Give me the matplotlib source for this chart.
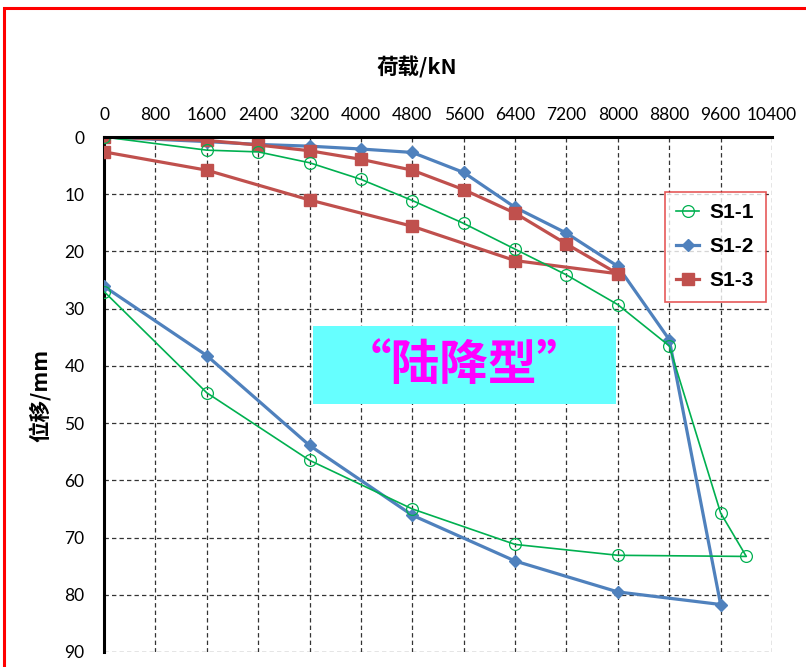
import matplotlib.pyplot as plt
from matplotlib.patches import Rectangle

plt.rcParams['font.family'] = ['Lato', 'DejaVu Sans']

# S1-1: loading then unloading
s11_load = [0, 1600, 2400, 3200, 4000, 4800, 5600, 6400, 7200, 8000, 8800, 9600, 10000,
            8000, 6400, 4800, 3200, 1600, 0]
s11_disp = [0, 2.3, 2.6, 4.5, 7.4, 11.1, 15.1, 19.6, 24.1, 29.3, 36.5, 65.7, 73.3,
            73.1, 71.2, 65.0, 56.5, 44.7, 27.0]

# S1-2
s12_load = [0, 1600, 2400, 3200, 4000, 4800, 5600, 6400, 7200, 8000, 8800, 9600,
            8000, 6400, 4800, 3200, 1600, 0]
s12_disp = [0, 0.8, 1.3, 1.6, 2.1, 2.7, 6.2, 12.3, 16.8, 22.6, 35.4, 81.7,
            79.5, 74.1, 66.1, 53.9, 38.2, 26.1]

# S1-3
s13_load = [0, 1600, 2400, 3200, 4000, 4800, 5600, 6400, 7200, 8000,
            6400, 4800, 3200, 1600, 0]
s13_disp = [0, 0.6, 1.4, 2.4, 3.9, 5.8, 9.2, 13.3, 18.7, 23.9,
            21.6, 15.6, 11.0, 5.8, 2.6]

x_ticks = list(range(0, 10401, 800))
y_ticks = list(range(0, 91, 10))

cjk = ['Noto Sans CJK SC', 'DejaVu Sans']

fig = plt.figure(figsize=(8.06, 6.67), dpi=100)
ax = fig.add_axes([104 / 806, 1 - 652 / 667, 668 / 806, 515 / 667])

ax.plot(s11_load, s11_disp, color='#00B050', lw=1.2, marker='o', ms=8.5,
        mfc='none', mec='#00B050', mew=0.9, label='S1-1', zorder=4)
ax.plot(s12_load, s12_disp, color='#4F81BD', lw=2.3, marker='D', ms=6.5,
        mfc='#4F81BD', mec='#4F81BD', label='S1-2', zorder=3)
ax.plot(s13_load, s13_disp, color='#C0504D', lw=2.3, marker='s', ms=8.5,
        mfc='#C0504D', mec='#C0504D', label='S1-3', zorder=3)

ax.set_xlim(0, 10400)
ax.set_ylim(90, 0)
ax.set_xticks(x_ticks)
ax.set_yticks(y_ticks)
ax.xaxis.tick_top()
ax.tick_params(axis='both', length=0, labelsize=12.5, colors='black')
ax.tick_params(axis='x', pad=10)
ax.tick_params(axis='y', pad=14)

ax.grid(True, color='#333333', lw=0.9, linestyle=(0, (3.5, 2.5)))
for side in ['right', 'bottom']:
    ax.spines[side].set_visible(False)
ax.spines['top'].set_linewidth(2.2)
ax.spines['left'].set_linewidth(2.2)
ax.spines['top'].set_zorder(5)

fig.text(417 / 806, 1 - 67 / 667, '荷载/kN', ha='center', va='center', fontsize=15.5,
         family=cjk, fontweight='bold')
fig.text(40 / 806, 1 - 395 / 667, '位移/mm', ha='center', va='center', fontsize=15.5,
         rotation=90, family=cjk, fontweight='bold')

# annotation box
ax.add_patch(Rectangle((313 / 806, 1 - 404 / 667), 303 / 806, 78 / 667,
                       transform=fig.transFigure, facecolor='#66FFFF',
                       edgecolor='none', zorder=6))
fig.text(464 / 806, 1 - 365 / 667, '“陆降型”', ha='center', va='center',
         fontsize=35, color='#FF00FF', fontweight='bold', family=cjk, zorder=7)

leg = ax.legend(loc='upper left', bbox_to_anchor=((665 - 104) / 668, (652 - 192) / 515),
                borderaxespad=0, frameon=True, fancybox=False,
                prop={'family': 'Liberation Sans', 'weight': 'bold', 'size': 15},
                handlelength=1.1, labelspacing=0.72, borderpad=0.55, handletextpad=0.5)
leg.get_frame().set_edgecolor('#E03030')
leg.get_frame().set_linewidth(1.2)
leg.set_zorder(8)

# red outer frame
fig.patches.append(Rectangle((4 / 806, -0.05), 1.0, 1 - 8 / 667 + 0.05,
                             transform=fig.transFigure, fill=False,
                             edgecolor='#FF0000', lw=2.2))

fig.savefig('out.png', dpi=100)
